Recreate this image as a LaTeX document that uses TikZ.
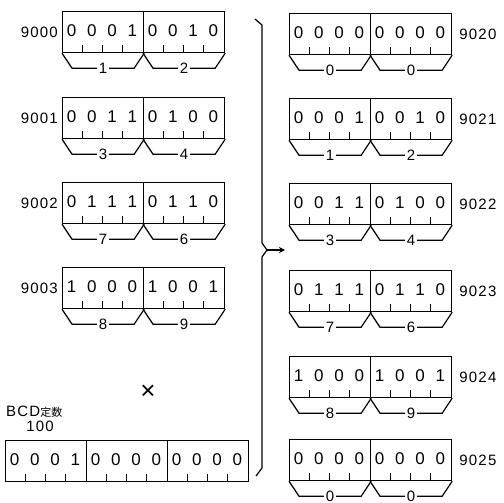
\documentclass[tikz,border=0pt]{standalone}
\usepackage{fontspec}
\setmainfont{Liberation Sans}
\newfontfamily\lblfont[LetterSpace=8]{Liberation Sans}
\newfontfamily\cjkfont{Noto Sans CJK JP}
\usetikzlibrary{arrows.meta,calc}
\tikzset{
  cell/.style={draw, line width=1.2pt, minimum width=81pt, minimum height=41pt, inner sep=0pt},
  digit/.style={font=\fontsize{17}{17}\selectfont, inner sep=0pt},
  tickmark/.style={line width=0.9pt},
  brk/.style={line width=1.2pt},
  brklbl/.style={fill=white, inner sep=1.5pt, font=\lblfont\fontsize{15}{15}\selectfont},
  lbl/.style={font=\lblfont\fontsize{15}{15}\selectfont, inner sep=0pt},
}
\newcommand\mycell[4]{%
  \node[cell, anchor=north west] (#1) at (#2,#3) {};
  \foreach \d [count=\i from 0] in {#4} {
    \node[digit] at ($(#1.north west)+({(\i+0.5)*20.25-0.5},20)$) {\d};
  }
  \foreach \k in {1,2,3} \draw[tickmark] ($(#1.south west)+(\k*20.25,0)$) -- ++(0,-8);
}
\newcommand\mybrk[2]{%
  \draw[brk] (#1.south west) -- ($(#1.south west)+(10,15)$)
     -- node[brklbl] {#2} ($(#1.south east)+(-10,15)$) -- (#1.south east);
}
\newcommand\myreg[7]{% name, x, top, digitsA, digitsB, labA, labB
  \mycell{#1a}{#2}{#3}{#4}
  \mycell{#1b}{#2+81}{#3}{#5}
  \mybrk{#1a}{#6}
  \mybrk{#1b}{#7}
}
\begin{document}
\begin{tikzpicture}[x=1pt,y=-1pt]
\useasboundingbox (0,0) rectangle (504,503);
% left registers
\myreg{La}{62}{11}{0,0,0,1}{0,0,1,0}{1}{2}
\myreg{Lb}{62}{97}{0,0,1,1}{0,1,0,0}{3}{4}
\myreg{Lc}{62}{182}{0,1,1,1}{0,1,1,0}{7}{6}
\myreg{Ld}{62}{267}{1,0,0,0}{1,0,0,1}{8}{9}
\node[lbl, anchor=east] (nLa) at ($(Laa.west)+(-4,0)$) {9000};
\node[lbl, anchor=east] (nLb) at ($(Lba.west)+(-4,0)$) {9001};
\node[lbl, anchor=east] (nLc) at ($(Lca.west)+(-4,0)$) {9002};
\node[lbl, anchor=east] (nLd) at ($(Lda.west)+(-4,0)$) {9003};
% right registers
\myreg{Ra}{289}{13}{0,0,0,0}{0,0,0,0}{0}{0}
\myreg{Rb}{289}{98}{0,0,0,1}{0,0,1,0}{1}{2}
\myreg{Rc}{289}{183}{0,0,1,1}{0,1,0,0}{3}{4}
\myreg{Rd}{289}{270}{0,1,1,1}{0,1,1,0}{7}{6}
\myreg{Re}{289}{356}{1,0,0,0}{1,0,0,1}{8}{9}
\myreg{Rf}{289}{439}{0,0,0,0}{0,0,0,0}{0}{0}
\node[lbl, anchor=west] (nRa) at ($(Rab.east)+(7,0)$) {9020};
\node[lbl, anchor=west] (nRb) at ($(Rbb.east)+(7,0)$) {9021};
\node[lbl, anchor=west] (nRc) at ($(Rcb.east)+(7,0)$) {9022};
\node[lbl, anchor=west] (nRd) at ($(Rdb.east)+(7,0)$) {9023};
\node[lbl, anchor=west] (nRe) at ($(Reb.east)+(7,0)$) {9024};
\node[lbl, anchor=west] (nRf) at ($(Rfb.east)+(7,0)$) {9025};
% BCD constant
\node[font=\fontsize{26}{26}\selectfont, inner sep=0pt] (times) at (148,392) {×};
\node[lbl, anchor=west] (bcd) at (6,412) {BCD{\cjkfont\fontsize{11}{11}\selectfont 定数}};
\node[lbl] (hundred) at (40,426) {100};
\mycell{Ca}{5}{440}{0,0,0,1}
\mycell{Cb}{86}{440}{0,0,0,0}
\mycell{Cc}{167}{440}{0,0,0,0}
% brace and arrow
\coordinate (btop) at (255,19);
\coordinate (btip) at (267,250);
\coordinate (bbot) at (256,476);
\coordinate (aend) at (285,250);
\draw[line width=1.2pt] (btop) -- (262,25) -- (262,243) -- (btip) -- (262,257) -- (262,468) -- (bbot);
\draw[line width=1.2pt, -{Stealth[length=6pt,width=6pt]}] (btip) -- (aend);
\end{tikzpicture}
\end{document}
